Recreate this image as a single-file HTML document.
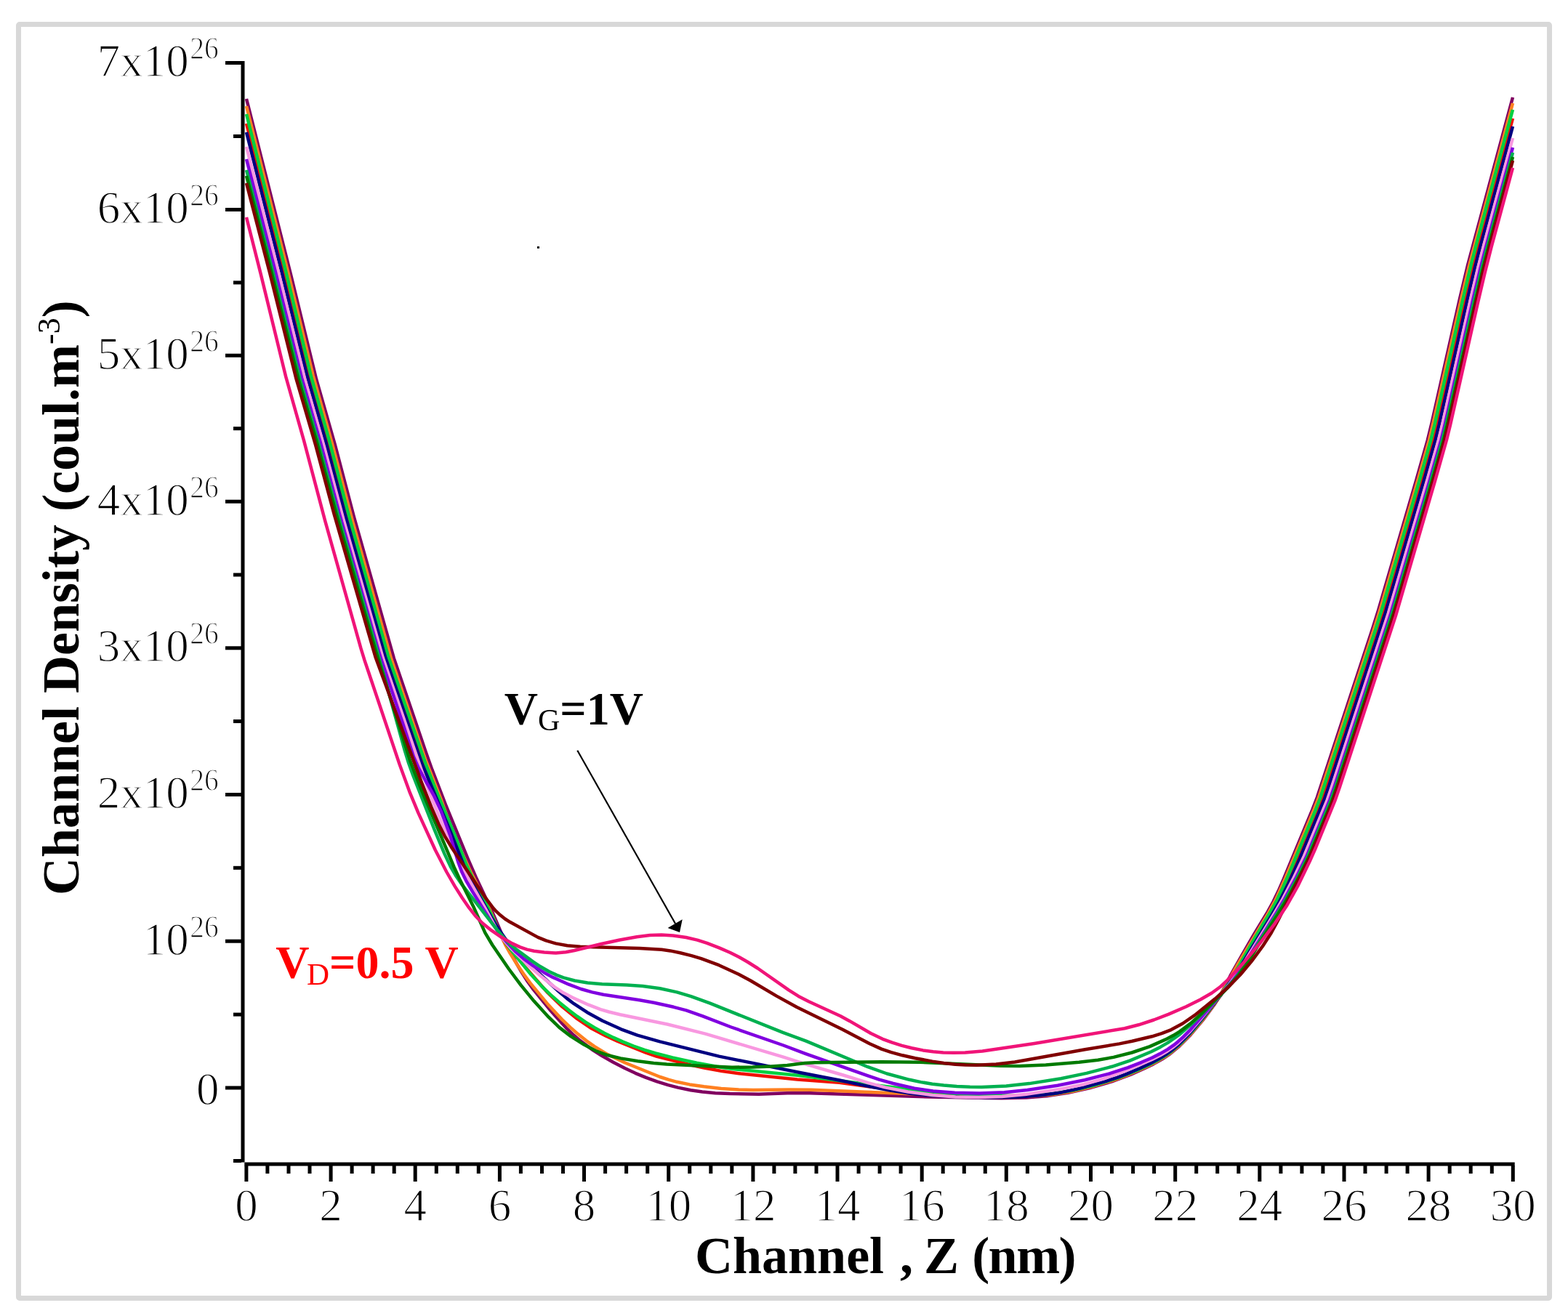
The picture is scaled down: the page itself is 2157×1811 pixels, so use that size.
<!DOCTYPE html>
<html><head><meta charset="utf-8"><title>Channel Density</title>
<style>
html,body{margin:0;padding:0;background:#fff;}
body{width:2157px;height:1811px;overflow:hidden;position:relative;}
svg{position:absolute;left:0;top:0;display:block;}
text{font-family:"Liberation Serif","Times New Roman",serif;}
</style></head>
<body>
<svg width="2157" height="1811" viewBox="0 0 2157 1811" xmlns="http://www.w3.org/2000/svg">
<rect x="0" y="0" width="2157" height="1811" fill="#fff"/>
<rect x="25.5" y="33.5" width="2106" height="1753" rx="1.5" fill="none" stroke="#d8d8d8" stroke-width="7"/>
<rect x="331.5" y="84" width="5" height="1515.5" fill="#000"/>
<rect x="310" y="84.0" width="22" height="5" fill="#000"/>
<rect x="310" y="286.0" width="22" height="5" fill="#000"/>
<rect x="310" y="486.7" width="22" height="5" fill="#000"/>
<rect x="310" y="687.7" width="22" height="5" fill="#000"/>
<rect x="310" y="889.3" width="22" height="5" fill="#000"/>
<rect x="310" y="1091.0" width="22" height="5" fill="#000"/>
<rect x="310" y="1292.7" width="22" height="5" fill="#000"/>
<rect x="310" y="1494.5" width="22" height="5" fill="#000"/>
<rect x="321" y="185.0" width="11" height="5" fill="#000"/>
<rect x="321" y="386.4" width="11" height="5" fill="#000"/>
<rect x="321" y="587.2" width="11" height="5" fill="#000"/>
<rect x="321" y="788.5" width="11" height="5" fill="#000"/>
<rect x="321" y="990.1" width="11" height="5" fill="#000"/>
<rect x="321" y="1191.8" width="11" height="5" fill="#000"/>
<rect x="321" y="1393.6" width="11" height="5" fill="#000"/>
<rect x="321" y="1595.0" width="11" height="5" fill="#000"/>
<rect x="336.3" y="1599.5" width="1747.4" height="5" fill="#000"/>
<rect x="336.4" y="1604" width="5" height="22" fill="#000"/>
<rect x="365.4" y="1604" width="5" height="11" fill="#000"/>
<rect x="394.5" y="1604" width="5" height="11" fill="#000"/>
<rect x="423.5" y="1604" width="5" height="11" fill="#000"/>
<rect x="452.6" y="1604" width="5" height="22" fill="#000"/>
<rect x="481.6" y="1604" width="5" height="11" fill="#000"/>
<rect x="510.6" y="1604" width="5" height="11" fill="#000"/>
<rect x="539.7" y="1604" width="5" height="11" fill="#000"/>
<rect x="568.7" y="1604" width="5" height="22" fill="#000"/>
<rect x="597.8" y="1604" width="5" height="11" fill="#000"/>
<rect x="626.8" y="1604" width="5" height="11" fill="#000"/>
<rect x="655.8" y="1604" width="5" height="11" fill="#000"/>
<rect x="684.9" y="1604" width="5" height="22" fill="#000"/>
<rect x="713.9" y="1604" width="5" height="11" fill="#000"/>
<rect x="743.0" y="1604" width="5" height="11" fill="#000"/>
<rect x="772.0" y="1604" width="5" height="11" fill="#000"/>
<rect x="801.0" y="1604" width="5" height="22" fill="#000"/>
<rect x="830.1" y="1604" width="5" height="11" fill="#000"/>
<rect x="859.1" y="1604" width="5" height="11" fill="#000"/>
<rect x="888.2" y="1604" width="5" height="11" fill="#000"/>
<rect x="917.2" y="1604" width="5" height="22" fill="#000"/>
<rect x="946.2" y="1604" width="5" height="11" fill="#000"/>
<rect x="975.3" y="1604" width="5" height="11" fill="#000"/>
<rect x="1004.3" y="1604" width="5" height="11" fill="#000"/>
<rect x="1033.4" y="1604" width="5" height="22" fill="#000"/>
<rect x="1062.4" y="1604" width="5" height="11" fill="#000"/>
<rect x="1091.4" y="1604" width="5" height="11" fill="#000"/>
<rect x="1120.5" y="1604" width="5" height="11" fill="#000"/>
<rect x="1149.5" y="1604" width="5" height="22" fill="#000"/>
<rect x="1178.6" y="1604" width="5" height="11" fill="#000"/>
<rect x="1207.6" y="1604" width="5" height="11" fill="#000"/>
<rect x="1236.6" y="1604" width="5" height="11" fill="#000"/>
<rect x="1265.7" y="1604" width="5" height="22" fill="#000"/>
<rect x="1294.7" y="1604" width="5" height="11" fill="#000"/>
<rect x="1323.8" y="1604" width="5" height="11" fill="#000"/>
<rect x="1352.8" y="1604" width="5" height="11" fill="#000"/>
<rect x="1381.8" y="1604" width="5" height="22" fill="#000"/>
<rect x="1410.9" y="1604" width="5" height="11" fill="#000"/>
<rect x="1439.9" y="1604" width="5" height="11" fill="#000"/>
<rect x="1469.0" y="1604" width="5" height="11" fill="#000"/>
<rect x="1498.0" y="1604" width="5" height="22" fill="#000"/>
<rect x="1527.0" y="1604" width="5" height="11" fill="#000"/>
<rect x="1556.1" y="1604" width="5" height="11" fill="#000"/>
<rect x="1585.1" y="1604" width="5" height="11" fill="#000"/>
<rect x="1614.2" y="1604" width="5" height="22" fill="#000"/>
<rect x="1643.2" y="1604" width="5" height="11" fill="#000"/>
<rect x="1672.2" y="1604" width="5" height="11" fill="#000"/>
<rect x="1701.3" y="1604" width="5" height="11" fill="#000"/>
<rect x="1730.3" y="1604" width="5" height="22" fill="#000"/>
<rect x="1759.4" y="1604" width="5" height="11" fill="#000"/>
<rect x="1788.4" y="1604" width="5" height="11" fill="#000"/>
<rect x="1817.4" y="1604" width="5" height="11" fill="#000"/>
<rect x="1846.5" y="1604" width="5" height="22" fill="#000"/>
<rect x="1875.5" y="1604" width="5" height="11" fill="#000"/>
<rect x="1904.6" y="1604" width="5" height="11" fill="#000"/>
<rect x="1933.6" y="1604" width="5" height="11" fill="#000"/>
<rect x="1962.6" y="1604" width="5" height="22" fill="#000"/>
<rect x="1991.7" y="1604" width="5" height="11" fill="#000"/>
<rect x="2020.7" y="1604" width="5" height="11" fill="#000"/>
<rect x="2049.8" y="1604" width="5" height="11" fill="#000"/>
<rect x="2078.8" y="1604" width="5" height="22" fill="#000"/>
<g fill="none" stroke-width="4.5" stroke-linejoin="round" stroke-linecap="butt">
<path d="M339.0,136.0 399.7,376.5 435.2,522.2 461.0,612.6 486.9,711.2 541.8,905.6 585.6,1034.4 594.3,1058.9 613.0,1107.4 644.2,1183.2 654.6,1207.0 675.2,1250.4 691.0,1287.1 699.6,1305.2 708.9,1322.9 716.9,1336.8 724.4,1348.6 733.7,1361.6 757.7,1391.1 779.1,1414.8 787.7,1423.2 796.8,1431.0 816.0,1445.4 827.8,1452.8 843.5,1461.7 859.5,1470.0 874.0,1476.8 888.7,1482.9 903.8,1488.3 919.1,1493.1 932.6,1496.6 950.2,1500.2 966.1,1502.5 984.0,1504.2 1004.0,1505.1 1044.0,1505.7 1089.9,1504.1 1113.9,1504.2 1277.8,1509.5 1377.8,1511.3 1411.8,1510.5 1439.7,1508.3 1469.4,1503.8 1498.6,1497.3 1529.4,1488.4 1555.6,1478.6 1573.9,1470.5 1586.5,1464.4 1598.7,1457.6 1608.6,1450.9 1622.5,1439.5 1637.9,1423.8 1654.7,1403.9 1671.3,1381.4 1679.7,1367.8 1693.4,1341.1 1708.1,1315.0 1724.1,1287.3 1743.8,1254.8 1751.5,1240.8 1758.5,1226.3 1765.7,1209.8 1805.5,1113.8 1812.0,1097.0 1888.1,865.2 1895.9,840.4 1948.5,659.9 1963.7,606.0 1969.4,582.7 2008.1,411.0 2019.2,364.3 2081.0,134.0" stroke="#800060"/>
<path d="M339.0,146.0 396.3,374.9 430.7,516.8 457.1,611.2 485.1,717.6 538.1,906.3 585.0,1044.5 606.1,1098.5 620.9,1140.0 628.4,1158.5 647.7,1200.2 673.0,1250.2 688.8,1286.9 694.9,1299.6 701.7,1311.8 710.1,1325.4 720.2,1340.3 729.7,1353.1 753.9,1382.4 773.0,1402.9 784.6,1413.9 795.2,1423.1 806.1,1431.8 817.5,1439.9 836.3,1451.3 859.8,1462.5 908.0,1482.0 919.4,1485.7 931.0,1488.8 948.6,1492.4 968.4,1495.3 992.2,1497.9 1016.2,1499.6 1036.2,1500.0 1086.2,1499.5 1116.2,1499.8 1290.0,1506.7 1354.0,1508.6 1388.0,1509.1 1422.0,1508.3 1447.9,1506.2 1475.5,1501.7 1504.7,1494.7 1535.3,1485.4 1548.4,1480.5 1563.1,1474.3 1577.7,1467.7 1590.2,1461.4 1600.6,1455.3 1610.5,1448.6 1624.2,1437.0 1639.5,1421.1 1656.1,1401.2 1672.8,1378.7 1680.3,1366.9 1702.8,1326.8 1744.9,1256.4 1754.5,1238.9 1768.5,1207.9 1807.7,1113.8 1814.2,1097.0 1890.3,865.2 1898.1,840.3 1950.7,659.9 1965.9,606.0 1971.5,582.6 2010.2,410.9 2021.4,364.3 2081.0,142.0" stroke="#FF8020"/>
<path d="M339.0,170.0 391.2,377.5 426.8,523.2 452.4,613.7 478.9,714.3 532.0,902.9 581.7,1046.5 604.6,1102.0 635.7,1180.0 646.4,1203.7 669.9,1247.9 685.9,1282.3 691.9,1292.7 698.9,1302.4 721.8,1330.1 753.5,1366.2 773.7,1385.6 793.9,1401.9 813.8,1415.3 833.3,1425.5 849.7,1432.9 888.6,1448.6 903.7,1453.9 950.3,1465.5 969.8,1469.8 993.4,1474.1 1019.2,1477.6 1096.8,1485.4 1154.6,1489.8 1206.1,1496.7 1269.9,1502.8 1299.8,1505.0 1331.7,1506.6 1363.7,1507.7 1391.7,1508.0 1423.7,1507.3 1449.6,1505.0 1477.2,1500.4 1506.3,1493.3 1536.9,1483.8 1562.9,1473.4 1577.5,1466.8 1589.9,1460.5 1600.3,1454.5 1610.2,1447.7 1624.0,1436.1 1639.2,1420.3 1658.3,1397.2 1680.2,1368.6 1691.3,1352.0 1705.2,1330.0 1749.0,1256.0 1759.6,1236.7 1771.0,1213.3 1786.4,1178.6 1813.3,1114.0 1819.8,1097.2 1895.9,865.4 1903.7,840.6 1956.2,660.1 1971.5,606.2 1977.1,582.9 2015.8,411.2 2026.5,366.4 2034.4,335.4 2081.0,163.0" stroke="#F01000"/>
<path d="M339.0,157.0 392.4,370.4 428.0,518.2 453.6,608.6 478.8,705.4 533.7,901.9 585.5,1051.1 600.2,1088.3 626.4,1151.1 641.8,1190.2 651.0,1210.1 672.3,1250.9 688.4,1285.3 694.5,1295.6 702.7,1306.9 730.4,1341.1 745.3,1357.3 756.8,1368.4 768.8,1378.9 781.2,1389.1 794.0,1398.7 805.5,1406.6 817.4,1413.9 831.4,1421.7 844.0,1427.9 856.8,1433.6 871.6,1439.5 886.7,1444.8 902.0,1449.5 925.2,1455.5 958.5,1462.7 986.0,1467.8 1007.8,1471.0 1099.3,1479.9 1194.5,1492.3 1279.9,1502.3 1307.9,1504.6 1339.8,1506.5 1369.8,1507.6 1395.8,1508.0 1425.7,1507.2 1451.6,1504.7 1479.2,1499.9 1508.3,1492.7 1538.8,1483.1 1566.6,1471.8 1581.1,1465.1 1591.8,1459.5 1602.1,1453.4 1610.3,1447.7 1624.0,1436.1 1640.5,1418.7 1659.5,1395.5 1679.9,1368.3 1689.8,1353.2 1702.3,1332.8 1727.0,1289.3 1748.6,1253.3 1757.2,1237.5 1764.9,1221.2 1773.7,1201.1 1809.9,1114.3 1816.4,1097.5 1892.5,865.7 1900.9,839.0 1952.9,660.4 1968.1,606.5 1973.8,583.2 2013.0,409.6 2023.6,364.8 2031.6,333.8 2081.0,151.0" stroke="#00D040"/>
<path d="M339.0,182.0 386.5,370.1 422.1,515.8 447.7,606.2 474.8,708.7 530.2,905.1 579.6,1048.8 619.7,1144.7 638.1,1191.2 644.0,1203.9 651.2,1218.2 675.7,1261.8 686.0,1278.9 697.6,1295.2 707.8,1307.5 717.6,1317.5 767.7,1363.5 779.8,1373.9 789.4,1381.2 807.8,1393.2 828.8,1404.7 854.3,1416.3 876.8,1424.6 907.6,1433.4 989.1,1453.6 1102.8,1476.5 1155.8,1486.8 1193.0,1494.6 1224.5,1500.5 1254.1,1505.1 1282.0,1507.8 1319.9,1509.7 1363.9,1510.3 1401.9,1509.4 1431.8,1507.2 1459.5,1503.4 1484.9,1497.9 1521.5,1487.8 1536.8,1482.8 1549.9,1477.9 1568.3,1470.0 1582.7,1463.3 1595.1,1456.6 1605.2,1450.3 1613.3,1444.4 1620.9,1437.9 1636.3,1422.3 1653.1,1402.4 1682.8,1364.7 1695.5,1346.7 1707.5,1328.3 1750.1,1258.2 1760.0,1240.8 1772.5,1215.8 1788.2,1181.2 1821.8,1099.9 1827.7,1082.9 1905.8,843.3 1959.5,659.0 1974.7,605.1 1979.9,583.7 2019.1,410.0 2029.2,367.2 2037.2,336.2 2081.0,174.0" stroke="#000080"/>
<path d="M339.0,202.0 383.9,378.4 419.4,522.0 445.8,614.4 472.5,714.9 526.8,905.3 583.9,1071.8 595.0,1101.7 607.9,1133.2 625.0,1171.6 639.2,1200.2 667.9,1250.6 683.0,1278.8 691.8,1292.2 703.6,1305.7 725.0,1326.7 743.1,1342.5 763.4,1358.7 775.1,1366.3 787.5,1372.8 809.4,1382.7 826.2,1389.1 837.7,1392.5 853.2,1396.2 917.9,1409.5 970.3,1422.6 1077.6,1454.6 1108.1,1464.4 1159.9,1479.5 1194.3,1490.2 1217.5,1496.4 1248.9,1502.5 1282.6,1507.0 1314.5,1509.4 1346.5,1510.1 1378.4,1509.1 1410.3,1506.1 1457.7,1498.9 1491.1,1492.2 1518.0,1484.6 1546.2,1474.4 1584.8,1458.0 1595.6,1452.6 1605.9,1446.5 1612.5,1442.0 1620.3,1435.7 1636.0,1420.4 1651.8,1402.3 1691.0,1354.3 1701.6,1339.8 1711.5,1324.7 1753.3,1256.5 1763.4,1239.2 1779.1,1209.1 1793.8,1178.4 1825.8,1100.8 1832.3,1081.9 1909.8,844.2 1963.6,659.9 1978.8,606.0 1984.5,582.7 2023.2,411.0 2033.3,368.2 2041.8,335.2 2081.0,190.0" stroke="#F898E0"/>
<path d="M339.0,219.0 378.4,372.0 414.9,519.6 441.1,609.8 466.8,706.5 520.0,893.0 524.7,908.3 554.1,995.5 568.9,1041.1 576.1,1057.6 596.6,1094.3 606.6,1116.1 619.3,1149.7 630.2,1186.2 635.0,1199.3 641.1,1211.8 650.2,1227.4 675.5,1268.2 687.0,1284.5 698.6,1298.3 709.6,1309.9 720.1,1319.1 733.0,1328.6 748.2,1338.2 760.5,1344.9 782.4,1354.7 799.2,1361.0 814.6,1365.4 830.2,1368.8 879.7,1376.2 899.3,1379.7 926.7,1385.8 944.0,1390.4 966.7,1398.3 1005.9,1413.5 1077.6,1438.5 1107.6,1449.8 1192.4,1479.9 1209.4,1485.6 1228.7,1491.0 1257.9,1497.7 1283.6,1501.5 1313.5,1503.8 1347.5,1504.4 1381.5,1503.2 1413.3,1500.0 1454.9,1493.7 1492.1,1486.2 1527.0,1477.2 1551.7,1469.1 1570.3,1461.8 1585.0,1455.5 1595.7,1450.1 1606.1,1444.1 1614.3,1438.4 1620.5,1433.4 1628.0,1426.7 1636.4,1418.2 1683.7,1364.0 1696.5,1348.6 1704.8,1337.3 1713.7,1324.0 1755.9,1256.1 1767.1,1237.1 1783.2,1207.2 1797.3,1178.5 1829.2,1100.8 1835.8,1081.9 1913.3,844.2 1967.1,659.9 1982.3,606.0 1988.0,582.7 2026.6,411.0 2036.3,370.1 2044.8,337.2 2081.0,203.0" stroke="#8000E0"/>
<path d="M339.0,234.0 376.2,377.3 412.9,522.7 436.9,605.3 465.2,709.5 518.8,895.9 556.8,1032.8 562.1,1050.0 568.2,1066.9 597.4,1141.3 611.3,1174.6 619.8,1192.6 626.8,1204.7 635.9,1217.9 683.8,1279.5 694.1,1291.7 702.6,1300.2 710.3,1306.5 732.8,1323.1 742.8,1329.8 754.9,1336.7 765.8,1341.9 775.1,1345.4 790.5,1349.5 808.3,1352.5 828.2,1354.2 862.2,1355.4 884.1,1357.0 907.9,1360.3 931.3,1365.4 950.5,1371.1 976.8,1380.7 1077.0,1420.9 1108.9,1432.6 1193.8,1468.2 1220.1,1477.5 1251.0,1485.8 1266.7,1489.1 1282.5,1491.7 1298.3,1493.6 1316.3,1495.1 1334.3,1495.8 1350.3,1495.9 1384.2,1494.4 1416.0,1491.1 1459.5,1484.2 1494.8,1476.9 1529.6,1467.8 1554.2,1459.6 1583.7,1447.2 1596.2,1440.9 1606.6,1434.9 1622.9,1423.4 1641.0,1407.6 1680.4,1367.8 1697.7,1348.5 1706.3,1337.4 1714.2,1325.8 1736.0,1290.0 1759.7,1252.9 1768.9,1237.4 1785.0,1207.5 1799.0,1178.7 1831.0,1101.1 1837.6,1082.2 1915.1,844.5 1968.9,660.2 1984.1,606.3 1989.3,584.9 2027.6,415.2 2038.2,370.4 2046.6,337.5 2081.0,210.0" stroke="#00B050"/>
<path d="M339.0,242.0 372.2,369.7 410.8,523.0 435.5,607.4 462.7,707.8 516.3,894.2 564.2,1046.9 577.9,1082.4 624.5,1192.9 632.9,1211.1 651.7,1248.6 667.2,1283.3 677.4,1300.5 700.0,1333.5 716.7,1355.9 734.5,1377.6 754.7,1399.7 769.1,1413.6 784.9,1425.9 803.4,1437.6 819.4,1446.0 834.3,1451.7 853.7,1456.4 877.4,1460.3 899.2,1462.9 917.1,1464.5 1007.0,1468.7 1035.0,1468.5 1061.0,1467.5 1082.9,1465.9 1106.8,1463.1 1120.8,1462.3 1212.7,1461.2 1264.7,1461.8 1376.6,1466.7 1402.6,1467.0 1438.6,1465.5 1484.4,1461.7 1510.3,1458.8 1531.9,1454.9 1557.1,1448.5 1581.7,1440.1 1603.6,1430.4 1614.2,1424.8 1622.7,1419.6 1637.2,1408.9 1652.1,1395.6 1687.6,1360.4 1703.5,1342.4 1716.3,1324.5 1737.2,1290.5 1757.8,1258.5 1768.1,1241.4 1777.9,1223.9 1790.8,1199.1 1802.0,1175.6 1828.0,1112.8 1833.8,1097.9 1917.2,843.2 1970.9,658.9 1986.1,605.0 2039.2,373.0 2048.0,338.1 2081.0,216.0" stroke="#007A00"/>
<path d="M339.0,252.0 371.2,375.9 407.5,521.4 433.9,611.6 459.8,708.2 516.5,904.2 580.7,1078.7 593.2,1110.3 603.5,1134.2 611.6,1150.3 620.9,1165.7 666.6,1233.8 677.3,1248.2 682.6,1254.2 688.5,1259.6 694.7,1264.5 701.5,1268.8 740.0,1289.9 751.1,1294.4 764.6,1298.4 780.3,1301.3 798.2,1302.8 880.2,1304.9 910.1,1306.7 922.0,1308.4 935.7,1311.2 951.2,1315.1 964.6,1319.2 989.0,1328.2 1016.2,1340.7 1032.1,1349.2 1068.2,1370.6 1096.2,1386.0 1159.1,1416.8 1196.3,1436.3 1212.7,1443.6 1226.0,1448.1 1241.4,1452.3 1259.0,1456.2 1282.6,1460.6 1298.4,1463.0 1314.3,1464.7 1328.3,1465.6 1344.3,1465.8 1370.2,1464.4 1396.0,1461.5 1492.5,1444.2 1539.9,1436.4 1557.5,1432.8 1584.7,1426.3 1598.1,1422.2 1611.1,1417.1 1626.9,1408.5 1643.4,1397.2 1671.4,1374.6 1690.8,1357.3 1706.1,1341.5 1721.5,1323.1 1736.9,1302.2 1748.8,1283.7 1759.3,1264.3 1798.8,1185.7 1806.9,1167.4 1832.7,1104.5 1840.0,1083.8 1915.8,851.9 1971.4,661.8 1987.1,606.0 1992.4,584.6 2030.6,414.9 2040.7,372.1 2049.6,337.2 2081.0,221.0" stroke="#800000"/>
<path d="M339.0,299.0 358.6,376.6 393.2,518.4 418.2,606.9 447.3,717.1 496.5,892.4 501.2,907.7 549.6,1051.7 563.3,1089.3 575.5,1118.9 598.8,1169.8 614.4,1200.0 625.4,1219.1 636.1,1236.0 645.2,1249.2 653.8,1260.2 663.5,1270.2 674.3,1279.1 689.1,1289.3 704.6,1298.4 715.5,1303.4 725.0,1306.6 734.7,1308.7 748.6,1310.6 764.5,1311.5 778.4,1310.3 790.2,1308.0 827.1,1299.0 852.5,1293.5 876.1,1289.3 894.0,1287.1 910.0,1286.6 925.9,1287.5 943.7,1290.0 959.3,1293.6 972.6,1297.9 989.4,1304.4 1004.1,1310.8 1016.6,1317.0 1028.8,1324.0 1042.3,1332.5 1084.9,1362.3 1098.4,1370.9 1112.6,1378.3 1156.2,1398.2 1168.5,1404.9 1197.9,1422.0 1214.1,1429.8 1227.2,1434.7 1240.6,1438.9 1254.1,1442.3 1269.8,1445.4 1283.7,1447.3 1297.6,1448.4 1311.6,1448.8 1327.6,1448.6 1351.5,1446.5 1422.8,1436.0 1547.0,1415.2 1566.4,1410.3 1587.3,1403.5 1607.8,1395.6 1631.7,1385.2 1651.4,1375.5 1667.0,1366.5 1678.3,1358.3 1688.5,1348.8 1710.3,1325.4 1732.2,1299.3 1753.9,1270.6 1770.5,1245.7 1785.2,1219.5 1801.7,1185.3 1809.8,1167.0 1836.3,1102.2 1842.9,1083.3 1919.9,847.6 1974.2,661.3 1990.0,605.5 1995.2,584.2 2033.0,416.4 2042.6,375.5 2051.9,338.6 2081.0,231.0" stroke="#F01478"/>
</g>
<g fill="#000" font-size="63" stroke="#fff" stroke-width="1.3">
<text x="338.9" y="1680.3" text-anchor="middle">0</text>
<text x="455.1" y="1680.3" text-anchor="middle">2</text>
<text x="571.2" y="1680.3" text-anchor="middle">4</text>
<text x="687.4" y="1680.3" text-anchor="middle">6</text>
<text x="803.5" y="1680.3" text-anchor="middle">8</text>
<text x="919.7" y="1680.3" text-anchor="middle">10</text>
<text x="1035.9" y="1680.3" text-anchor="middle">12</text>
<text x="1152.0" y="1680.3" text-anchor="middle">14</text>
<text x="1268.2" y="1680.3" text-anchor="middle">16</text>
<text x="1384.3" y="1680.3" text-anchor="middle">18</text>
<text x="1500.5" y="1680.3" text-anchor="middle">20</text>
<text x="1616.7" y="1680.3" text-anchor="middle">22</text>
<text x="1732.8" y="1680.3" text-anchor="middle">24</text>
<text x="1849.0" y="1680.3" text-anchor="middle">26</text>
<text x="1965.1" y="1680.3" text-anchor="middle">28</text>
<text x="2081.3" y="1680.3" text-anchor="middle">30</text>
<text x="259.7" y="104.8" text-anchor="end">7x10</text>
<text x="261.2" y="81.0" font-size="44.5" textLength="39.5" lengthAdjust="spacingAndGlyphs">26</text>
<text x="259.7" y="306.8" text-anchor="end">6x10</text>
<text x="261.2" y="283.0" font-size="44.5" textLength="39.5" lengthAdjust="spacingAndGlyphs">26</text>
<text x="259.7" y="507.5" text-anchor="end">5x10</text>
<text x="261.2" y="483.7" font-size="44.5" textLength="39.5" lengthAdjust="spacingAndGlyphs">26</text>
<text x="259.7" y="708.5" text-anchor="end">4x10</text>
<text x="261.2" y="684.7" font-size="44.5" textLength="39.5" lengthAdjust="spacingAndGlyphs">26</text>
<text x="259.7" y="910.1" text-anchor="end">3x10</text>
<text x="261.2" y="886.3" font-size="44.5" textLength="39.5" lengthAdjust="spacingAndGlyphs">26</text>
<text x="259.7" y="1111.8" text-anchor="end">2x10</text>
<text x="261.2" y="1088.0" font-size="44.5" textLength="39.5" lengthAdjust="spacingAndGlyphs">26</text>
<text x="259.7" y="1313.5" text-anchor="end">10</text>
<text x="261.2" y="1289.7" font-size="44.5" textLength="39.5" lengthAdjust="spacingAndGlyphs">26</text>
<text x="301.5" y="1520.0" text-anchor="end">0</text>
</g>
<text x="956" y="1751.5" font-size="72" font-weight="bold" fill="#000">Channel <tspan dx="4">,</tspan><tspan dx="-3"> Z </tspan><tspan letter-spacing="-1.5">(nm)</tspan></text>
<text transform="translate(107.5,1232) rotate(-90)" font-size="72" font-weight="bold" fill="#000">Channel Density (coul.m<tspan font-size="44" font-weight="normal" dy="-26">-3</tspan><tspan dy="26">)</tspan></text>
<g fill="#000">
<text x="693.7" y="996.5" font-size="64" font-weight="bold">V<tspan font-size="42" font-weight="normal" dy="8">G</tspan><tspan dy="-8">=1V</tspan></text>
</g>
<g fill="#f00">
<text x="379.3" y="1346.3" font-size="64" font-weight="bold">V<tspan font-size="43" font-weight="normal" dx="-3.5" dy="8.3">D</tspan><tspan dy="-8.3">=0.5 V</tspan></text>
</g>
<g stroke="#000" stroke-width="2.2" fill="none">
<line x1="794.3" y1="1032.7" x2="929" y2="1271"/>
</g>
<polygon points="935,1283 918.6,1276.9 938.7,1265.2" fill="#000"/>
<rect x="739" y="339" width="3" height="3" fill="#000"/>
</svg>
</body></html>
